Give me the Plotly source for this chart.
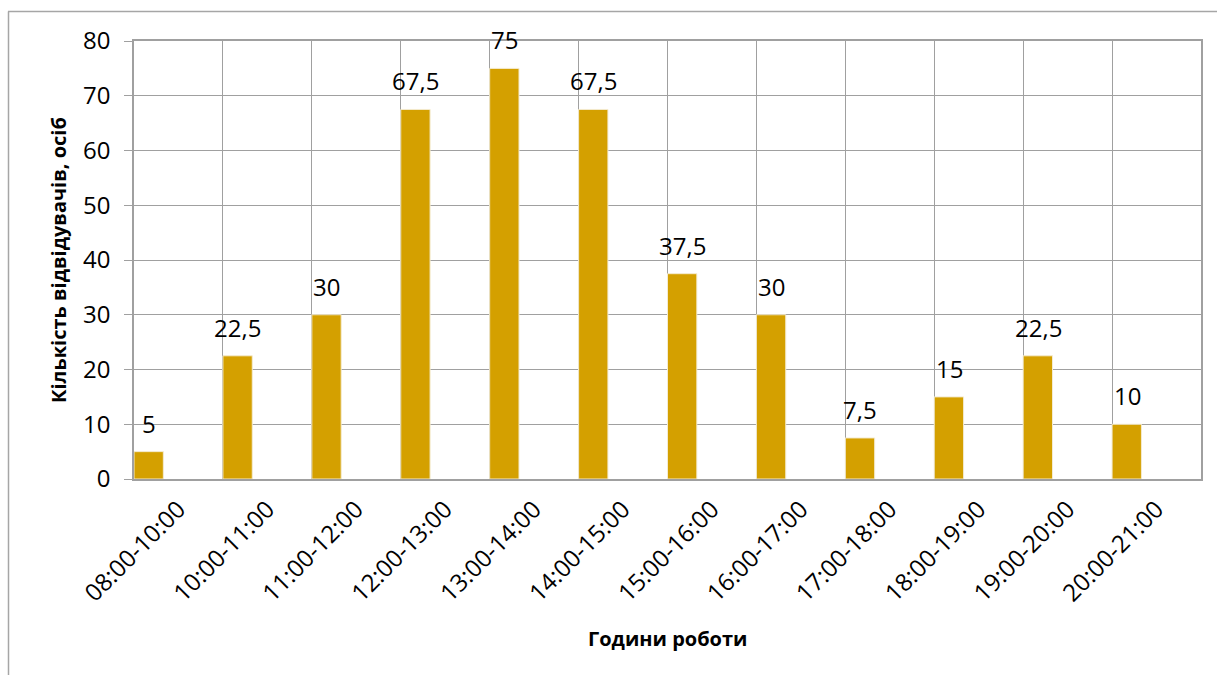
import plotly.graph_objects as go

categories = ["08:00-10:00", "10:00-11:00", "11:00-12:00", "12:00-13:00", "13:00-14:00",
              "14:00-15:00", "15:00-16:00", "16:00-17:00", "17:00-18:00", "18:00-19:00",
              "19:00-20:00", "20:00-21:00"]
visitors = [5, 22.5, 30, 67.5, 75, 67.5, 37.5, 30, 7.5, 15, 22.5, 10]
value_labels = ["5", "22,5", "30", "67,5", "75", "67,5", "37,5", "30", "7,5", "15", "22,5", "10"]
y_ticks = [0, 10, 20, 30, 40, 50, 60, 70, 80]

BAR = "#D4A000"
GRID = "#A0A0A0"
FONT = "Open Sans"

fig = go.Figure()
fig.add_trace(go.Bar(
    x=categories, y=visitors,
    marker=dict(color=BAR, line=dict(color="#F4EBD0", width=1)),
    offset=-0.5, width=0.33,
    hoverinfo="x+y",
))

annotations = []
for c, v, t in zip(categories, visitors, value_labels):
    annotations.append(dict(
        x=c, y=v, xref="x", yref="y", text=t, showarrow=False,
        xanchor="center", yanchor="bottom", xshift=-29.5, yshift=10,
        font=dict(family=FONT, size=24, color="black"),
    ))
annotations.append(dict(
    x=0.5, y=0, xref="paper", yref="paper", text="<b>Години роботи</b>", showarrow=False,
    xanchor="center", yanchor="middle", yshift=-159,
    font=dict(family=FONT, size=20, color="black"),
))
annotations.append(dict(
    x=0, y=0.5, xref="paper", yref="paper", text="<b>Кількість відвідувачів, осіб</b>",
    showarrow=False, textangle=-90, xanchor="center", yanchor="middle", xshift=-76,
    font=dict(family=FONT, size=20, color="black"),
))

fig.update_layout(
    width=1217, height=675,
    margin=dict(l=134, r=16, t=41, b=196),
    paper_bgcolor="white", plot_bgcolor="white",
    showlegend=False,
    font=dict(family=FONT, size=24, color="black"),
    annotations=annotations,
    shapes=[
        dict(type="line", xref="paper", yref="paper",
             x0=(8 - 134) / 1067, x1=(1240 - 134) / 1067,
             y0=(479 - 11.5) / 438, y1=(479 - 11.5) / 438,
             line=dict(color="#A6A6A6", width=1.5)),
        dict(type="line", xref="paper", yref="paper",
             x0=(8.5 - 134) / 1067, x1=(8.5 - 134) / 1067,
             y0=(479 - 11.5) / 438, y1=(479 - 700) / 438,
             line=dict(color="#A6A6A6", width=1.5)),
    ],
)
fig.update_xaxes(
    type="category", tickson="boundaries", ticks="", showgrid=True,
    gridcolor=GRID, gridwidth=1, showline=True, linecolor=GRID, linewidth=1.5,
    mirror=True, tickangle=-45, tickfont=dict(family=FONT, size=24, color="black"),
    ticklabelstandoff=5, range=[-0.5, 11.5],
)
fig.update_yaxes(
    range=[0, 80], tickvals=y_ticks, ticktext=[str(v) for v in y_ticks],
    showgrid=True, gridcolor=GRID, gridwidth=1, showline=True, linecolor=GRID,
    linewidth=1.5, mirror=True, ticks="outside", ticklen=8, tickcolor=GRID,
    ticklabelstandoff=9, tickfont=dict(family=FONT, size=24, color="black"),
    zeroline=False,
)

fig.write_html("out.html")
